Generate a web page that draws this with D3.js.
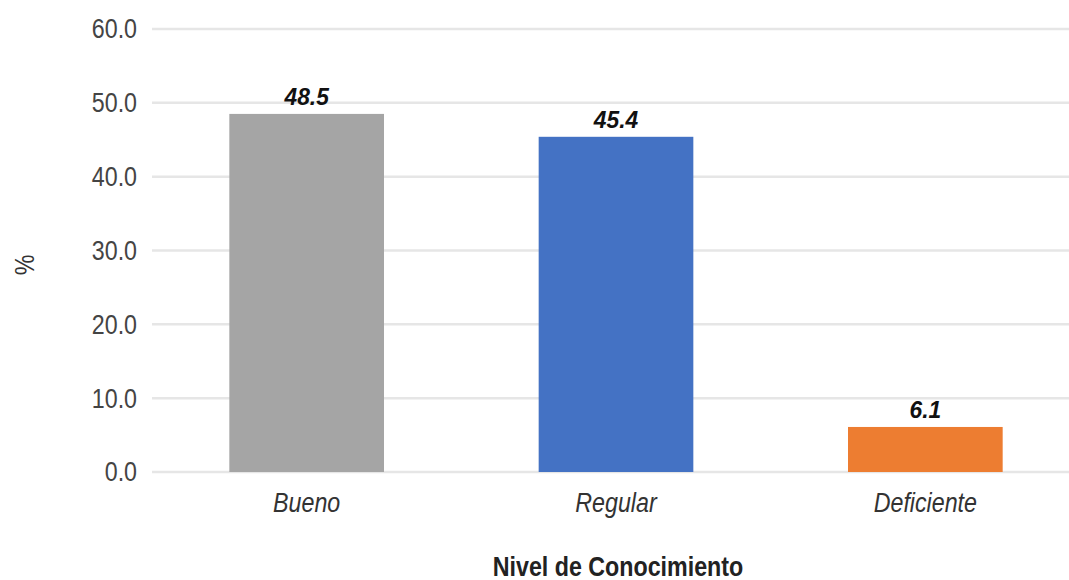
<!DOCTYPE html>
<html><head><meta charset="utf-8">
<script src="https://cdn.jsdelivr.net/npm/d3@7"></script>
<style>body{margin:0;background:#fff}</style>
</head><body>
<svg id="c" width="1069" height="580"></svg>
<script>
const categories = ["Bueno", "Regular", "Deficiente"];
const values = [48.5, 45.4, 6.1];
const colors = ["#a5a5a5", "#4472c4", "#ed7d31"];
const yTicks = [0, 10, 20, 30, 40, 50, 60];

const svg = d3.select("#c");
const m = {left: 152, right: -11, top: 29, bottom: 108};
const W = 1069, H = 580;
const x = d3.scaleBand().domain(categories).range([m.left, W - m.right]).paddingInner(0.5).paddingOuter(0.25);
const y = d3.scaleLinear().domain([0, 60]).range([H - m.bottom, m.top]);
const font = "'Liberation Sans', Arial, sans-serif";
const SX = 0.83;

const grid = svg.append("g");
grid.selectAll("line").data(yTicks).join("line")
  .attr("x1", m.left).attr("x2", W).attr("y1", d => y(d)).attr("y2", d => y(d))
  .attr("stroke", "#e6e6e6").attr("stroke-width", 2.5);

const yAxis = svg.append("g").attr("transform", `translate(${m.left},0)`)
  .call(d3.axisLeft(y).tickValues(yTicks).tickFormat(d3.format(".1f")).tickSize(0).tickPadding(15));
yAxis.select(".domain").remove();
yAxis.selectAll("text").attr("font-family", font).attr("font-size", 28).attr("fill", "#444")
  .attr("x", -15 / SX).attr("transform", `scale(${SX},1)`);

svg.append("g").selectAll("rect").data(values).join("rect")
  .attr("x", (d, i) => x(categories[i])).attr("width", x.bandwidth())
  .attr("y", d => y(d)).attr("height", d => y(0) - y(d))
  .attr("fill", (d, i) => colors[i]);

const VS = 0.95;
svg.append("g").selectAll("text").data(values).join("text")
  .attr("transform", (d, i) => `translate(${x(categories[i]) + x.bandwidth() / 2},${y(d) - 9}) scale(${VS},1)`)
  .attr("text-anchor", "middle").attr("font-family", font).attr("font-size", 24)
  .attr("font-weight", "bold").attr("font-style", "italic").attr("fill", "#111")
  .text(d => d.toFixed(1));

const xAxis = svg.append("g").attr("transform", `translate(0,${y(0)})`)
  .call(d3.axisBottom(x).tickSize(0).tickPadding(0));
xAxis.select(".domain").remove();
xAxis.selectAll("text").attr("font-family", font).attr("font-size", 28)
  .attr("font-style", "italic").attr("fill", "#333")
  .attr("y", 0).attr("dy", 0).attr("transform", `translate(0,40) scale(${SX},1)`);

svg.append("text").attr("transform", `translate(618,576) scale(${SX},1)`).attr("text-anchor", "middle")
  .attr("font-family", font).attr("font-size", 28).attr("font-weight", "bold").attr("fill", "#222")
  .text("Nivel de Conocimiento");

svg.append("text").attr("transform", `translate(34,265) rotate(-90) scale(${SX},1)`).attr("text-anchor", "middle")
  .attr("font-family", font).attr("font-size", 28).attr("fill", "#333").text("%");
</script>
</body></html>
